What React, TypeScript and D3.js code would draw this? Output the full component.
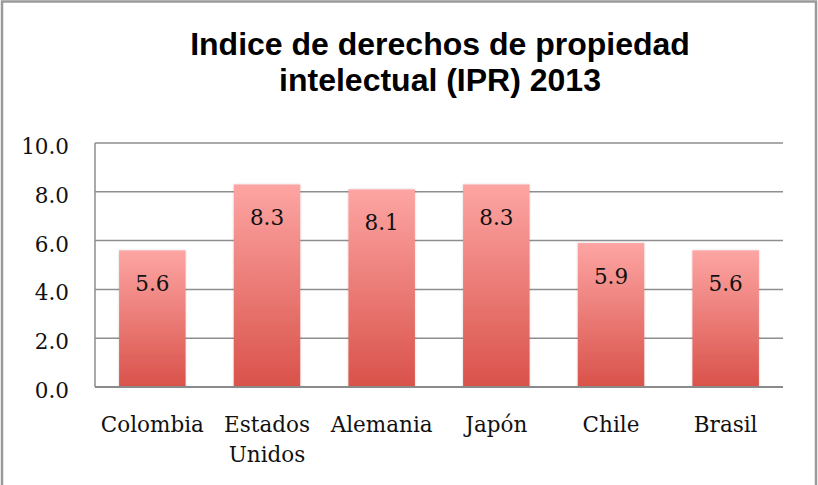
import React, { useEffect, useRef } from 'react';
import * as d3 from 'd3';

const categories = ['Colombia', 'Estados Unidos', 'Alemania', 'Japón', 'Chile', 'Brasil'];
const categoryLines = [['Colombia'], ['Estados', 'Unidos'], ['Alemania'], ['Japón'], ['Chile'], ['Brasil']];
const values = [5.6, 8.3, 8.1, 8.3, 5.9, 5.6];
const yTicks = [0, 2, 4, 6, 8, 10];
const titleLines = ['Indice de derechos de propiedad', 'intelectual (IPR) 2013'];

const W = 818;
const H = 485;

const App = () => {
    const svgRef = useRef<SVGSVGElement>(null);

    useEffect(() => {
        document.body.style.margin = '0';
        const svg = d3.select(svgRef.current);
        svg.selectAll('*').remove();

        const serif = '"DejaVu Serif", serif';
        const plot = { left: 95, right: 783, top: 143, bottom: 387 };

        const x = d3.scaleBand<string>()
            .domain(categories)
            .range([plot.left, plot.right])
            .paddingInner(0.42)
            .paddingOuter(0.21);

        const y = d3.scaleLinear()
            .domain([0, 10])
            .range([plot.bottom, plot.top]);

        // background + frame
        svg.append('rect').attr('width', W).attr('height', H).attr('fill', '#fff');
        svg.append('path')
            .attr('d', `M2,${H} V1.5 H816 V${H}`)
            .attr('fill', 'none')
            .attr('stroke', '#9a9a9a')
            .attr('stroke-width', 2.5);

        const defs = svg.append('defs');
        const grad = defs.append('linearGradient')
            .attr('id', 'barGrad')
            .attr('x1', 0).attr('y1', 0).attr('x2', 0).attr('y2', 1);
        grad.append('stop').attr('offset', '0%').attr('stop-color', '#fda5a3');
        grad.append('stop').attr('offset', '100%').attr('stop-color', '#d9524a');

        const shadow = defs.append('filter').attr('id', 'barShadow')
            .attr('x', '-10%').attr('y', '-5%').attr('width', '120%').attr('height', '110%');
        shadow.append('feDropShadow')
            .attr('dx', 0).attr('dy', 0).attr('stdDeviation', 1.2)
            .attr('flood-color', '#000').attr('flood-opacity', 0.18);

        // title
        svg.append('text')
            .attr('x', 440)
            .attr('text-anchor', 'middle')
            .style('font-family', '"Liberation Sans", Arial, sans-serif')
            .style('font-weight', 'bold')
            .style('font-size', '32px')
            .attr('fill', '#000')
            .selectAll('tspan')
            .data(titleLines)
            .enter()
            .append('tspan')
            .attr('x', 440)
            .attr('y', (d, i) => 55 + i * 36)
            .text(d => d);

        // gridlines
        svg.append('g')
            .selectAll('line')
            .data(yTicks.filter(t => t > 0))
            .enter()
            .append('line')
            .attr('x1', plot.left)
            .attr('x2', plot.right)
            .attr('y1', d => y(d))
            .attr('y2', d => y(d))
            .attr('stroke', '#8e8e8e')
            .attr('stroke-width', 1.5);

        // y axis line
        svg.append('line')
            .attr('x1', plot.left).attr('x2', plot.left)
            .attr('y1', plot.top).attr('y2', plot.bottom)
            .attr('stroke', '#8e8e8e')
            .attr('stroke-width', 1.5);

        // y tick labels
        svg.append('g')
            .selectAll('text')
            .data(yTicks)
            .enter()
            .append('text')
            .attr('x', 69)
            .attr('y', d => y(d) + 11)
            .attr('text-anchor', 'end')
            .style('font-family', serif)
            .style('font-size', '21.5px')
            .attr('fill', '#111')
            .text(d => d3.format('.1f')(d));

        // bars
        svg.append('g')
            .selectAll('rect')
            .data(values)
            .enter()
            .append('rect')
            .attr('x', (d, i) => x(categories[i])!)
            .attr('y', d => y(d))
            .attr('width', x.bandwidth())
            .attr('height', d => y(0) - y(d))
            .attr('fill', 'url(#barGrad)')
            .attr('filter', 'url(#barShadow)');

        // x axis line
        svg.append('line')
            .attr('x1', plot.left).attr('x2', plot.right)
            .attr('y1', plot.bottom).attr('y2', plot.bottom)
            .attr('stroke', '#8a8a8a')
            .attr('stroke-width', 2);

        // value labels inside bar end
        svg.append('g')
            .selectAll('text')
            .data(values)
            .enter()
            .append('text')
            .attr('x', (d, i) => x(categories[i])! + x.bandwidth() / 2)
            .attr('y', d => y(d) + 41)
            .attr('text-anchor', 'middle')
            .style('font-family', serif)
            .style('font-size', '21.5px')
            .attr('fill', '#111')
            .text(d => d3.format('.1f')(d));

        // category labels
        const cat = svg.append('g')
            .selectAll('text')
            .data(categories)
            .enter()
            .append('text')
            .attr('text-anchor', 'middle')
            .style('font-family', serif)
            .style('font-size', '21.5px')
            .attr('fill', '#111');
        cat.selectAll('tspan')
            .data((d, i) => categoryLines[i].map(line => ({ line, c: d })))
            .enter()
            .append('tspan')
            .attr('x', d => x(d.c)! + x.bandwidth() / 2)
            .attr('y', (d, j) => 432 + j * 30)
            .text(d => d.line);
    }, []);

    return <svg ref={svgRef} width={W} height={H} style={{ display: 'block' }} />;
};

export default App;
